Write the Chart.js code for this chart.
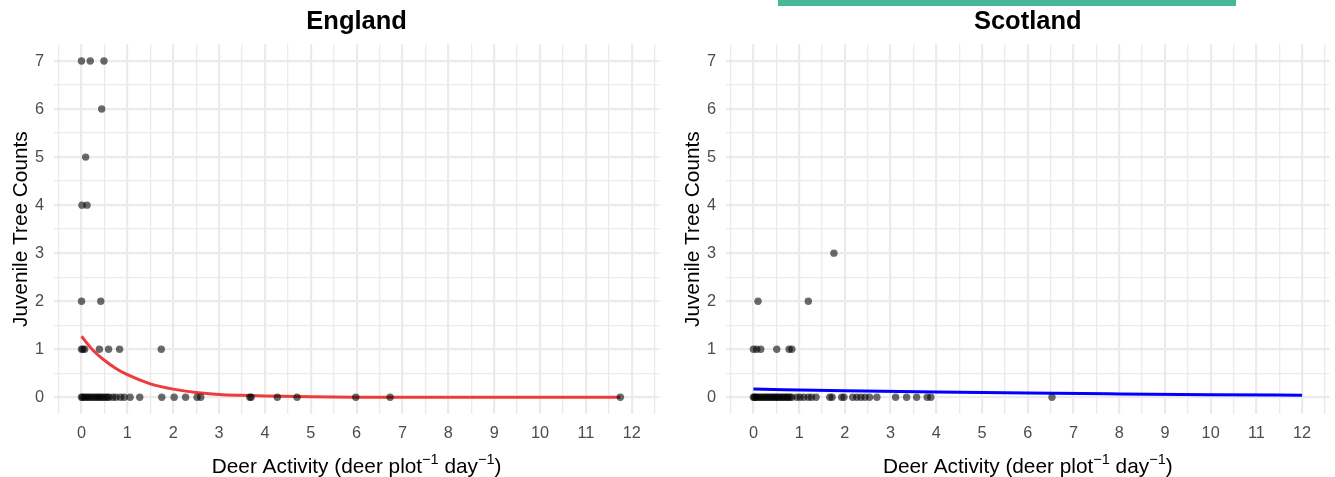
<!DOCTYPE html>
<html><head><meta charset="utf-8">
<script src="https://cdn.jsdelivr.net/npm/chart.js@4.4.0/dist/chart.umd.min.js"></script>
<style>
html,body{margin:0;padding:0;background:#fff;}
#wrap{position:relative;width:1335px;height:477px;overflow:hidden;background:#fff;}
.panel{position:absolute;top:0;}
</style></head><body>
<div id="wrap">
<div class="panel" style="left:0px"><canvas id="eng" width="672" height="477"></canvas></div>
<div class="panel" style="left:672px"><canvas id="sco" width="663" height="477"></canvas></div>
</div>
<script>
// ---------- data ----------
const panelTitles = ['England', 'Scotland'];
const xTickLabels = ['0','1','2','3','4','5','6','7','8','9','10','11','12'];
const yTickLabels = ['0','1','2','3','4','5','6','7'];
// x-axis title pieces: [text, isSuperscript]
const xAxisTitleParts = [['Deer Activity (deer plot', false], ['\u22121', true], [' day', false], ['\u22121', true], [')', false]];
const yAxisTitle = 'Juvenile Tree Counts';

const englandActivity = [
  0, 0.19, 0.49,
  0.44,
  0.09,
  0.01, 0.12,
  0, 0.42,
  0, 0.03, 0.07, 0.39, 0.59, 0.83, 1.74,
  0, 0.02, 0.06, 0.1, 0.14, 0.18, 0.22, 0.27, 0.31, 0.35, 0.39, 0.43, 0.47, 0.52, 0.56, 0.6,
  0.68, 0.75, 0.85, 0.93, 1.06, 1.27, 1.75, 2.02, 2.27, 2.52, 2.6, 3.67, 3.7, 4.27, 4.7,
  5.98, 6.73, 11.75
];
const englandCounts = [
  7, 7, 7,
  6,
  5,
  4, 4,
  2, 2,
  1, 1, 1, 1, 1, 1, 1,
  0, 0, 0, 0, 0, 0, 0, 0, 0, 0, 0, 0, 0, 0, 0, 0,
  0, 0, 0, 0, 0, 0, 0, 0, 0, 0, 0, 0, 0, 0, 0,
  0, 0, 0
];
const englandFitX = [0, 0.25, 0.5, 0.75, 1, 1.5, 2, 2.5, 3, 3.5, 4, 5, 6, 8, 10, 11.75];
const englandFitY = [1.27, 0.98, 0.77, 0.6, 0.47, 0.28, 0.17, 0.1, 0.06, 0.04, 0.025, 0.01, 0.003, 0, 0, 0];

const scotlandActivity = [
  1.76,
  0.1, 1.2,
  0, 0.07, 0.16, 0.51, 0.78, 0.84,
  0, 0.02, 0.04, 0.07, 0.11, 0.14, 0.18, 0.22, 0.26, 0.29, 0.33, 0.37, 0.4, 0.44, 0.47, 0.51,
  0.54, 0.58, 0.62, 0.65, 0.69, 0.73, 0.76, 0.8, 0.84, 0.95, 1.02, 1.1, 1.2, 1.27, 1.37,
  1.67, 1.72, 1.93, 1.98, 2.17, 2.26, 2.35, 2.44, 2.54, 2.7, 3.11, 3.35, 3.57, 3.8, 3.88, 6.53
];
const scotlandCounts = [
  3,
  2, 2,
  1, 1, 1, 1, 1, 1,
  0, 0, 0, 0, 0, 0, 0, 0, 0, 0, 0, 0, 0, 0, 0, 0,
  0, 0, 0, 0, 0, 0, 0, 0, 0, 0, 0, 0, 0, 0, 0,
  0, 0, 0, 0, 0, 0, 0, 0, 0, 0, 0, 0, 0, 0, 0, 0
];
const scotlandFitX = [0, 2, 4, 6, 8, 10, 12];
const scotlandFitY = [0.17, 0.136, 0.109, 0.087, 0.07, 0.055, 0.044];

// ---------- styling ----------
const FONT = '"Liberation Sans", Arial, Helvetica, sans-serif';
const TICK_SIZE = 16.3;
const AXIS_TITLE_SIZE = 20.8;
const isInt = v => Math.abs(v - Math.round(v)) < 1e-6;

function pts(xs, ys) { return xs.map((x, i) => ({x: x, y: ys[i]})); }

function scales() {
  const gridW = ctx => (ctx.tick && isInt(ctx.tick.value)) ? 2.2 : 1.3;
  return {
    x: {
      type: 'linear', min: -0.6, max: 12.6,
      afterFit: s => { s.height = 62.9; },
      afterBuildTicks: s => { s.ticks = s.ticks.filter(t => t.value >= s.min && t.value <= s.max); },
      grid: {color: '#EBEBEB', lineWidth: gridW, drawTicks: false},
      border: {display: false},
      ticks: {
        stepSize: 0.5, includeBounds: false, autoSkip: false, maxRotation: 0, minRotation: 0,
        padding: 10, color: '#4D4D4D', font: {family: FONT, size: TICK_SIZE},
        callback: v => (isInt(v) && Math.round(v) >= 0 && Math.round(v) < xTickLabels.length) ? xTickLabels[Math.round(v)] : ''
      },
      title: {display: false}
    },
    y: {
      type: 'linear', min: -0.35, max: 7.35,
      afterFit: s => { s.width = 54; },
      afterBuildTicks: s => { s.ticks = s.ticks.filter(t => t.value >= s.min && t.value <= s.max); },
      grid: {color: '#EBEBEB', lineWidth: gridW, drawTicks: false},
      border: {display: false},
      ticks: {
        stepSize: 0.5, includeBounds: false, autoSkip: false,
        padding: 10, color: '#4D4D4D', font: {family: FONT, size: TICK_SIZE},
        callback: v => (isInt(v) && Math.round(v) >= 0 && Math.round(v) < yTickLabels.length) ? yTickLabels[Math.round(v)] : ''
      },
      title: {display: true, text: yAxisTitle, color: '#000', font: {family: FONT, size: AXIS_TITLE_SIZE}, padding: {top: 9, bottom: 0}}
    }
  };
}

// x-axis title with true superscripts, drawn as canvas text centred under the panel
const xTitlePlugin = {
  id: 'xTitle',
  afterDraw(chart) {
    const c = chart.ctx, ca = chart.chartArea;
    const baseFont = AXIS_TITLE_SIZE + 'px ' + FONT;
    const supSize = AXIS_TITLE_SIZE * 0.7;
    const supFont = supSize + 'px ' + FONT;
    c.save();
    c.fillStyle = '#000';
    c.textBaseline = 'alphabetic';
    c.textAlign = 'left';
    let total = 0;
    const widths = xAxisTitleParts.map(([t, sup]) => { c.font = sup ? supFont : baseFont; const w = c.measureText(t).width; total += w; return w; });
    let x = (ca.left + ca.right) / 2 - total / 2;
    const baseY = 473;
    xAxisTitleParts.forEach(([t, sup], i) => {
      c.font = sup ? supFont : baseFont;
      c.fillText(t, x, sup ? baseY - 9 : baseY);
      x += widths[i];
    });
    c.restore();
  }
};

function makeChart(id, title, xs, ys, fx, fy, lineColor, padRight, extraPlugins) {
  return new Chart(document.getElementById(id), {
    type: 'scatter',
    data: {
      datasets: [
        {data: pts(xs, ys), pointRadius: 3.7, pointHoverRadius: 3.7, backgroundColor: 'rgba(0,0,0,0.58)', borderWidth: 0, order: 0},
        {data: pts(fx, fy), showLine: true, pointRadius: 0, borderColor: lineColor, borderWidth: 3,
         cubicInterpolationMode: 'monotone', fill: false, order: 1}
      ]
    },
    options: {
      responsive: false, animation: false, events: [],
      layout: {padding: {left: 0, right: padRight, top: 0, bottom: 0}},
      plugins: {
        legend: {display: false}, tooltip: {enabled: false},
        title: {display: true, fullSize: false, text: title, color: '#000',
                font: {family: FONT, size: 25.5, weight: 'bold'}, padding: {top: 6.2, bottom: 7.4}}
      },
      scales: scales()
    },
    plugins: [xTitlePlugin].concat(extraPlugins || [])
  });
}

const topBar = {
  id: 'topBar',
  afterDraw(chart) {
    const c = chart.ctx;
    c.save();
    c.fillStyle = '#46B79A';
    c.fillRect(106, 0, 458, 6);
    c.restore();
  }
};

makeChart('eng', panelTitles[0], englandActivity, englandCounts, englandFitX, englandFitY, '#EE3B3B', 12.7);
makeChart('sco', panelTitles[1], scotlandActivity, scotlandCounts, scotlandFitX, scotlandFitY, '#0000FF', 3.3, [topBar]);
</script>
</body></html>
